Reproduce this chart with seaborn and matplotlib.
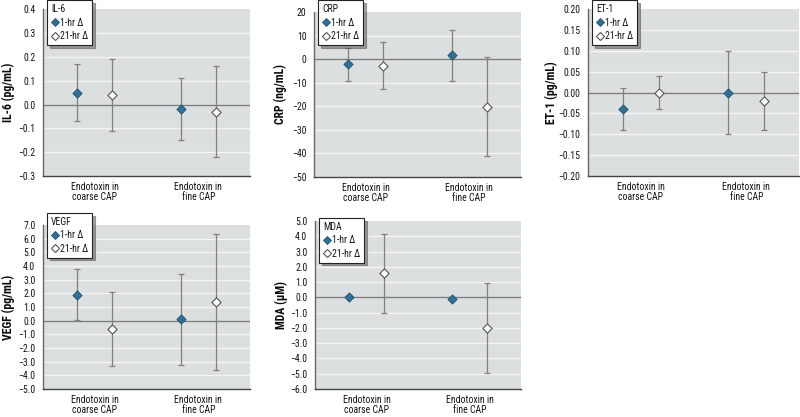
import matplotlib
matplotlib.use("Agg")
import matplotlib.pyplot as plt
from matplotlib import font_manager
import seaborn as sns
import pandas as pd
import numpy as np
from matplotlib.lines import Line2D

# ---------------- data ----------------
categories = ["Endotoxin in\ncoarse CAP", "Endotoxin in\nfine CAP"]
series_names = ["1-hr Δ", "21-hr Δ"]

il6_1hr = [0.05, -0.02]
il6_1hr_lo = [-0.07, -0.15]
il6_1hr_hi = [0.17, 0.11]
il6_21hr = [0.04, -0.03]
il6_21hr_lo = [-0.11, -0.22]
il6_21hr_hi = [0.19, 0.16]

crp_1hr = [-2.1, 1.7]
crp_1hr_lo = [-9.4, -9.4]
crp_1hr_hi = [4.8, 12.6]
crp_21hr = [-2.7, -20.2]
crp_21hr_lo = [-12.5, -41.0]
crp_21hr_hi = [7.4, 0.9]

et1_1hr = [-0.04, 0.0]
et1_1hr_lo = [-0.09, -0.10]
et1_1hr_hi = [0.01, 0.10]
et1_21hr = [0.0, -0.02]
et1_21hr_lo = [-0.04, -0.09]
et1_21hr_hi = [0.04, 0.05]

vegf_1hr = [1.9, 0.1]
vegf_1hr_lo = [0.05, -3.25]
vegf_1hr_hi = [3.75, 3.45]
vegf_21hr = [-0.6, 1.35]
vegf_21hr_lo = [-3.35, -3.6]
vegf_21hr_hi = [2.1, 6.35]

mda_1hr = [0.0, -0.13]
mda_1hr_lo = [-0.05, -0.18]
mda_1hr_hi = [0.05, -0.08]
mda_21hr = [1.57, -2.03]
mda_21hr_lo = [-1.05, -4.96]
mda_21hr_hi = [4.15, 0.92]

il6_ticks = [-0.3, -0.2, -0.1, 0.0, 0.1, 0.2, 0.3, 0.4]
crp_ticks = [-50, -40, -30, -20, -10, 0, 10, 20]
et1_ticks = [-0.20, -0.15, -0.10, -0.05, 0.00, 0.05, 0.10, 0.15, 0.20]
vegf_ticks = [-5.0, -4.0, -3.0, -2.0, -1.0, 0.0, 1.0, 2.0, 3.0, 4.0, 5.0, 6.0, 7.0]
mda_ticks = [-6.0, -5.0, -4.0, -3.0, -2.0, -1.0, 0.0, 1.0, 2.0, 3.0, 4.0, 5.0]

# layout in pixels: (left, right, top, bottom), ylabel x, legend top
panels = [
    dict(name="IL-6", ylabel="IL-6 (pg/mL)", fmt="{:.1f}", ticks=il6_ticks,
         v1=il6_1hr, l1=il6_1hr_lo, h1=il6_1hr_hi, v2=il6_21hr, l2=il6_21hr_lo, h2=il6_21hr_hi,
         box=(43, 250, 9.3, 176), ylx=8, legtop=0.5),
    dict(name="CRP", ylabel="CRP (ng/mL)", fmt="{:.0f}", ticks=crp_ticks,
         v1=crp_1hr, l1=crp_1hr_lo, h1=crp_1hr_hi, v2=crp_21hr, l2=crp_21hr_lo, h2=crp_21hr_hi,
         box=(314, 521, 12.3, 176.7), ylx=280, legtop=0.5),
    dict(name="ET-1", ylabel="ET-1 (pg/mL)", fmt="{:.2f}", ticks=et1_ticks,
         v1=et1_1hr, l1=et1_1hr_lo, h1=et1_1hr_hi, v2=et1_21hr, l2=et1_21hr_lo, h2=et1_21hr_hi,
         box=(588, 799, 9, 176), ylx=551, legtop=0.5),
    dict(name="VEGF", ylabel="VEGF (pg/mL)", fmt="{:.1f}", ticks=vegf_ticks,
         v1=vegf_1hr, l1=vegf_1hr_lo, h1=vegf_1hr_hi, v2=vegf_21hr, l2=vegf_21hr_lo, h2=vegf_21hr_hi,
         box=(43, 250, 225, 389), ylx=8, legtop=213),
    dict(name="MDA", ylabel="MDA (μM)", fmt="{:.1f}", ticks=mda_ticks,
         v1=mda_1hr, l1=mda_1hr_lo, h1=mda_1hr_hi, v2=mda_21hr, l2=mda_21hr_lo, h2=mda_21hr_hi,
         box=(315, 521, 221, 389), ylx=281, legtop=218),
]

# ---------------- style ----------------
sns.set_theme(style="white")
installed = set(f.name for f in font_manager.fontManager.ttflist)
main_font = "DejaVu Sans"
for cand in ["Liberation Sans Narrow", "Roboto Condensed", "Archivo Narrow",
             "PT Sans Narrow", "Barlow Semi Condensed", "Asap Condensed"]:
    if cand in installed:
        main_font = cand
        break
FONT = [main_font, "DejaVu Sans"]
plt.rcParams["font.family"] = FONT
plt.rcParams["axes.unicode_minus"] = True

W, H = 800, 417
fig = plt.figure(figsize=(W / 100, H / 100), dpi=100)

BG = "#dcdfe0"
BLUE = "#2f7199"
ERR = "#808080"
TXT = "#141414"
OFF = 0.17
FS = 7.0

def fmt_tick(fmt, v):
    s = fmt.format(v)
    if s.startswith("-"):
        s = "\u2212" + s[1:]
    return s

for p in panels:
    l, r, t, b = p["box"]
    ax = fig.add_axes([l / W, 1 - b / H, (r - l) / W, (b - t) / H])
    ax.set_facecolor(BG)

    rows = []
    for ci, cat in enumerate(categories):
        rows.append(dict(category=cat, series=series_names[0], x=ci - OFF,
                         est=p["v1"][ci], lo=p["l1"][ci], hi=p["h1"][ci]))
        rows.append(dict(category=cat, series=series_names[1], x=ci + OFF,
                         est=p["v2"][ci], lo=p["l2"][ci], hi=p["h2"][ci]))
    df = pd.DataFrame(rows)

    ticks = p["ticks"]
    for tv in ticks[1:-1]:
        ax.axhline(tv, color="#f4f5f5", lw=1.0, zorder=0.5)
    ax.axhline(0, color="#7c7c7c", lw=1.0, zorder=1)

    ax.errorbar(df["x"], df["est"], yerr=[df["est"] - df["lo"], df["hi"] - df["est"]],
                fmt="none", ecolor=ERR, elinewidth=0.9, capsize=2.2, capthick=0.9, zorder=2)

    d1 = df[df["series"] == series_names[0]]
    d2 = df[df["series"] == series_names[1]]
    sns.scatterplot(data=d1, x="x", y="est", marker="D", s=22, color=BLUE,
                    edgecolor="#1d4f6e", linewidth=0.6, ax=ax, zorder=3, legend=False)
    sns.scatterplot(data=d2, x="x", y="est", marker="D", s=22, color="white",
                    edgecolor="#555555", linewidth=0.8, ax=ax, zorder=3, legend=False)

    ax.set_xlim(-0.5, 1.5)
    ax.set_ylim(ticks[0], ticks[-1])
    ax.set_yticks(ticks)
    ax.set_yticklabels([fmt_tick(p["fmt"], v) for v in ticks], fontsize=FS, color=TXT)
    ax.set_xticks([0, 1])
    ax.set_xticklabels(categories, fontsize=FS, color=TXT, linespacing=1.0)
    ax.tick_params(axis="y", length=0, pad=5.5)
    ax.tick_params(axis="x", length=0, pad=4.5)
    ax.set_xlabel("")
    ax.set_ylabel(p["ylabel"], fontsize=8.5, fontweight="bold", color="#0a0a0a", va="center")
    ax.yaxis.set_label_coords((p["ylx"] - l) / (r - l), 0.5)

    for side in ["top", "right"]:
        ax.spines[side].set_visible(False)
    ax.spines["left"].set_color("#666666")
    ax.spines["left"].set_linewidth(1.0)
    ax.spines["bottom"].set_color("#444444")
    ax.spines["bottom"].set_linewidth(1.0)

    handles = [
        Line2D([], [], marker="D", ls="none", markersize=4.2, markerfacecolor=BLUE,
               markeredgecolor="#1d4f6e", markeredgewidth=0.6),
        Line2D([], [], marker="D", ls="none", markersize=4.2, markerfacecolor="white",
               markeredgecolor="#555555", markeredgewidth=0.8),
    ]
    leg = ax.legend(handles, series_names, title=p["name"], loc="upper left",
                    bbox_to_anchor=((l + 4) / W, 1 - p["legtop"] / H),
                    bbox_transform=fig.transFigure, fontsize=FS, title_fontsize=FS,
                    frameon=True, fancybox=False, shadow=True, framealpha=1,
                    borderpad=0.4, labelspacing=0.35, handletextpad=0.15,
                    handlelength=0.8, borderaxespad=0)
    leg._legend_box.align = "left"
    for txt in leg.get_texts():
        txt.set_color(TXT)
    leg.get_title().set_color(TXT)
    leg.get_frame().set_edgecolor("#222222")
    leg.get_frame().set_linewidth(0.8)
    leg.set_zorder(10)

fig.savefig("out.png", dpi=100)
